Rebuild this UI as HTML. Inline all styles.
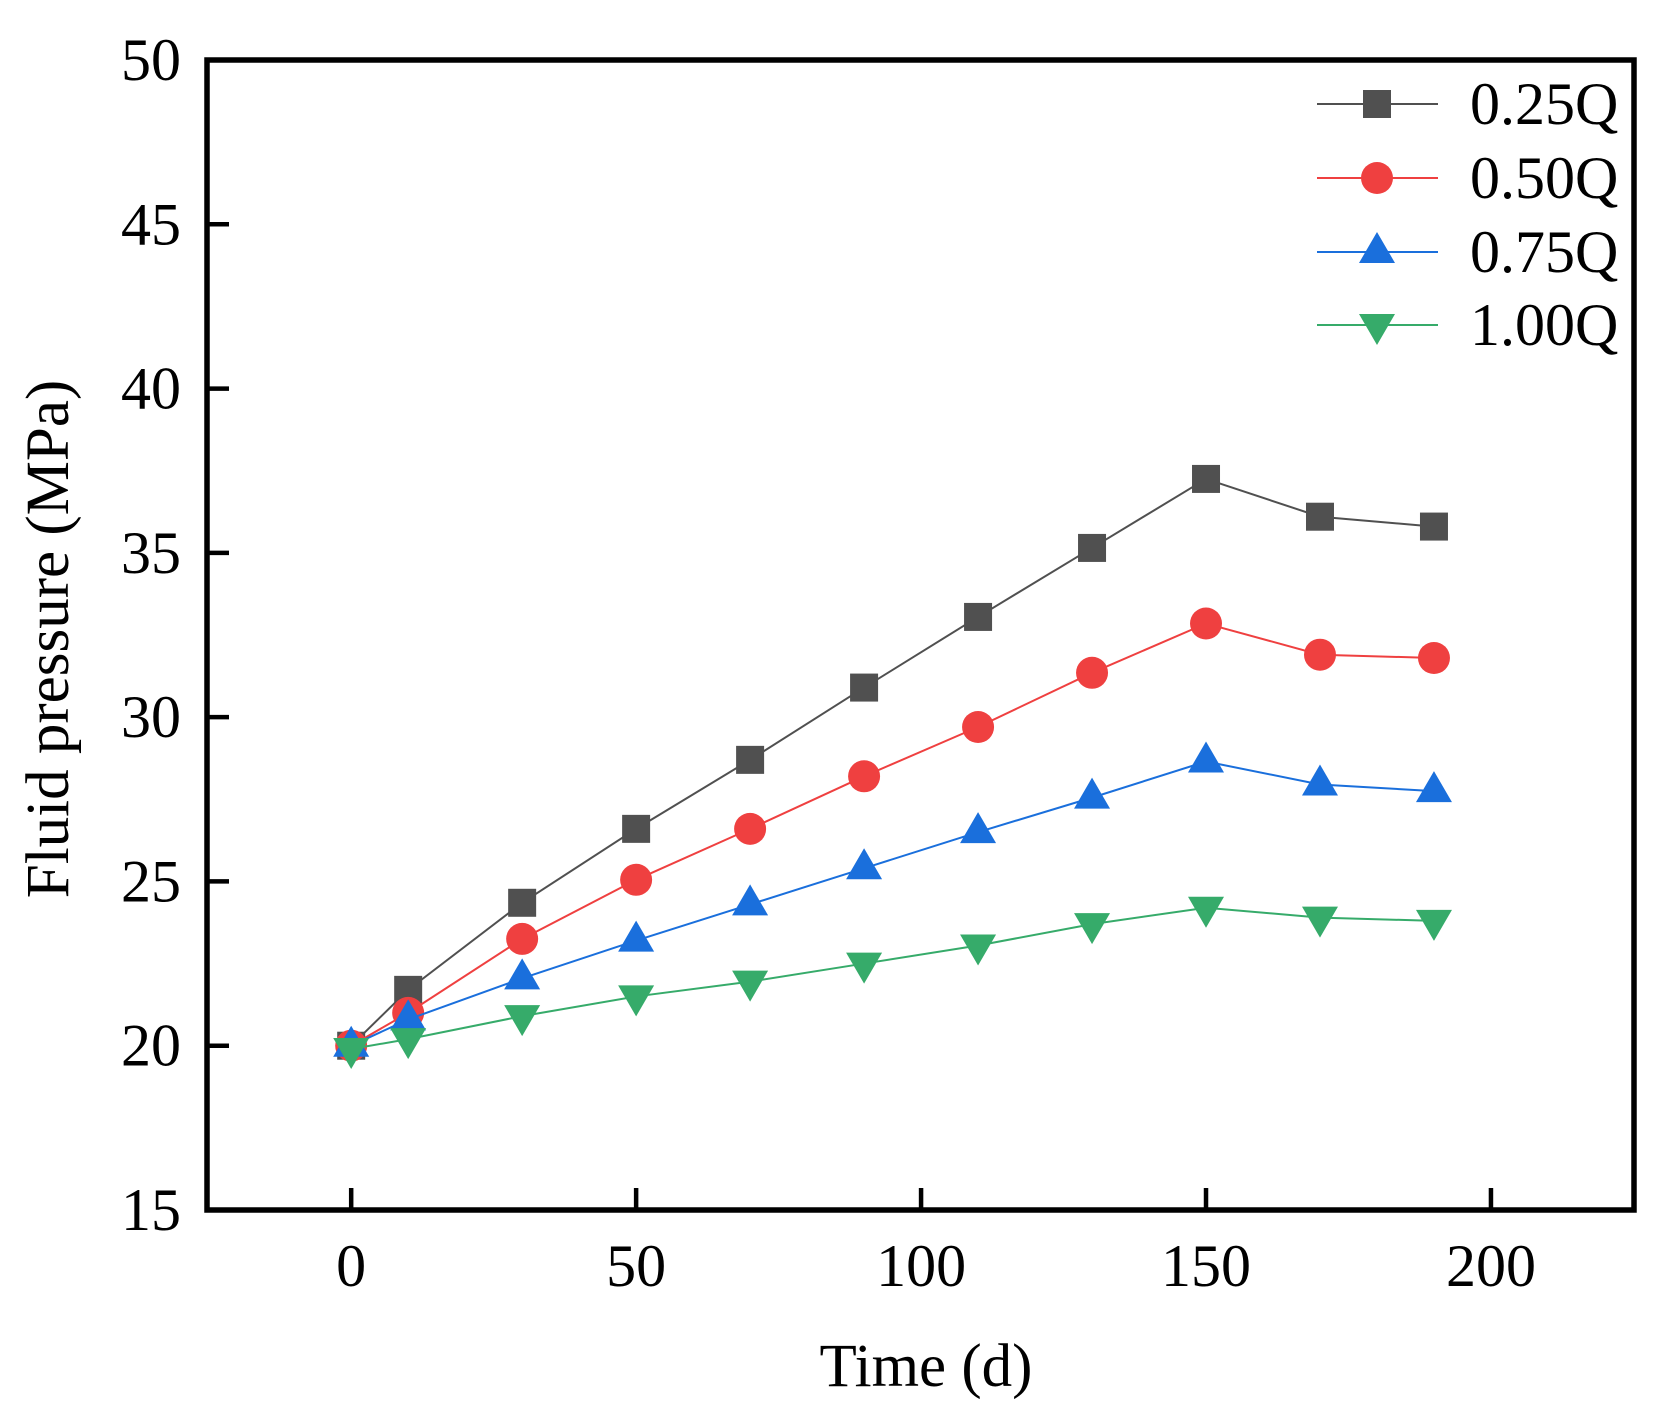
<!DOCTYPE html>
<html><head><meta charset="utf-8">
<style>
html,body{margin:0;padding:0;background:#fff;}
svg{display:block;font-family:"Liberation Serif",serif;}
</style></head>
<body>
<svg id="chart" width="1670" height="1413" viewBox="0 0 1670 1413">
<g id="plot"></g>
</svg>
<script>
const categories = [0,10,30,50,70,90,110,130,150,170,190];
const seriesNames = ["0.25Q","0.50Q","0.75Q","1.00Q"];
const s025 = [20,21.7,24.35,26.6,28.7,30.9,33.05,35.15,37.25,36.1,35.8];
const s050 = [20,21.0,23.25,25.05,26.6,28.2,29.7,31.35,32.85,31.9,31.8];
const s075 = [20,20.8,22.05,23.2,24.3,25.4,26.5,27.55,28.65,27.95,27.75];
const s100 = [19.9,20.2,20.9,21.5,21.95,22.5,23.05,23.7,24.2,23.9,23.8];
const xTicks = [0,50,100,150,200];
const yTicks = [15,20,25,30,35,40,45,50];

const L=207,R=1634,T=60,B=1210;
const xMin=-25.3,xMax=225.1,yMin=15,yMax=50;
const xs=v=>L+(v-xMin)/(xMax-xMin)*(R-L);
const ys=v=>B-(v-yMin)/(yMax-yMin)*(B-T);
const NS="http://www.w3.org/2000/svg";
const g=document.getElementById('plot');
function mk(tag,attrs,parent){const e=document.createElementNS(NS,tag);for(const k in attrs)e.setAttribute(k,attrs[k]);(parent||g).appendChild(e);return e;}

const colors=["#505050","#ef4040","#1a6fdc","#36ab6a"];
const shapes=["square","circle","up","down"];
const data=[s025,s050,s075,s100];

function marker(shape,cx,cy,color,parent){
  let e;
  if(shape==="square") e=mk('rect',{x:cx-14,y:cy-14,width:28,height:28,fill:color},parent);
  else if(shape==="circle") e=mk('circle',{cx:cx,cy:cy,r:16,fill:color},parent);
  else if(shape==="up") e=mk('polygon',{points:`${cx},${cy-20} ${cx-18},${cy+11} ${cx+18},${cy+11}`,fill:color},parent);
  else e=mk('polygon',{points:`${cx},${cy+20} ${cx-18},${cy-11} ${cx+18},${cy-11}`,fill:color},parent);
  return e;
}

data.forEach((arr,si)=>{
  const sg=mk('g',{});
  
  
  const pts=arr.map((v,i)=>xs(categories[i])+','+ys(v)).join(' ');
  const pl=mk('polyline',{points:pts,fill:'none',stroke:colors[si],'stroke-width':2},sg);
  
  
  arr.forEach((v,i)=>{
    const m=marker(shapes[si],xs(categories[i]),ys(v),colors[si],sg);
    
    
  });
});

const frame=mk('rect',{x:L,y:T,width:R-L,height:B-T,fill:'none',stroke:'#000','stroke-width':5.5});



xTicks.forEach(t=>{
  const x=xs(t);
  const tk=mk('line',{x1:x,y1:B,x2:x,y2:B-22,stroke:'#000','stroke-width':4.5});
  
  
  const tx=mk('text',{x:x,y:B+76,'font-size':60,'text-anchor':'middle'});
  tx.textContent=t;
  
  
});
yTicks.forEach(t=>{
  const y=ys(t);
  const tk=mk('line',{x1:L,y1:y,x2:L+22,y2:y,stroke:'#000','stroke-width':4.5});
  
  
  const tx=mk('text',{x:181,y:y+20,'font-size':60,'text-anchor':'end'});
  tx.textContent=t;
  
  
});

const xt=mk('text',{x:926,y:1386,'font-size':61,'text-anchor':'middle'});
xt.textContent='Time (d)';


const yt=mk('text',{x:0,y:0,'font-size':61,'text-anchor':'middle',transform:'translate(68,639) rotate(-90)'});
yt.textContent='Fluid pressure (MPa)';



const legY=[104,178,252,325];
seriesNames.forEach((n,si)=>{
  const lg=mk('g',{});
  
  
  mk('line',{x1:1317,y1:legY[si],x2:1438,y2:legY[si],stroke:colors[si],'stroke-width':2},lg);
  marker(shapes[si],1377,legY[si],colors[si],lg);
  const tx=mk('text',{x:1470,y:legY[si]+20,'font-size':60},lg);
  tx.textContent=n;
});
</script>
</body></html>
